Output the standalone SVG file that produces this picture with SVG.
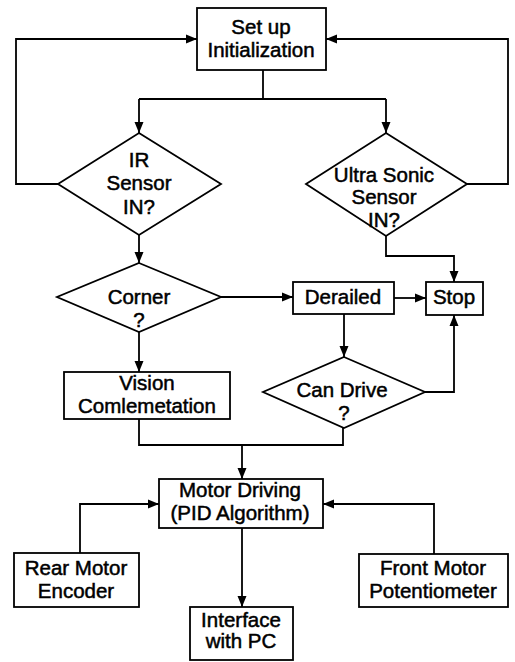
<svg xmlns="http://www.w3.org/2000/svg" width="515" height="662" viewBox="0 0 515 662">
<style>
.box{fill:#fff;stroke:#000;stroke-width:1.8}
.t{font-family:"Liberation Sans",Arial,sans-serif;font-size:20.5px;font-weight:normal;text-anchor:middle;fill:#000;stroke:#000;stroke-width:0.5}
.c{fill:none;stroke:#000;stroke-width:1.8}
.a{marker-end:url(#arr)}
</style>
<defs>
<marker id="arr" markerUnits="userSpaceOnUse" markerWidth="12" markerHeight="10" refX="11" refY="5" orient="auto">
<path d="M0,0.5 L11,5 L0,9.5 z" fill="#000"/>
</marker>
</defs>
<rect width="515" height="662" fill="#fff"/>
<g id="connectors">
<polyline class="c a" points="58,184 16,184 16,39 197,39"/>
<polyline class="c a" points="467,184 508,184 508,39 326,39"/>
<line class="c" x1="263" y1="70" x2="263" y2="99"/>
<line class="c" x1="139" y1="99" x2="386" y2="99"/>
<line class="c a" x1="139" y1="99" x2="139" y2="133"/>
<line class="c a" x1="386" y1="99" x2="386" y2="133"/>
<line class="c a" x1="139" y1="235" x2="139" y2="263"/>
<line class="c a" x1="221" y1="297" x2="293" y2="297"/>
<line class="c a" x1="394" y1="298" x2="426" y2="298"/>
<polyline class="c a" points="386,236 386,256 454,256 454,282"/>
<line class="c a" x1="344" y1="314" x2="344" y2="357"/>
<polyline class="c a" points="425,392 454,392 454,315"/>
<line class="c a" x1="139" y1="332" x2="139" y2="372"/>
<polyline class="c" points="139,419 139,445 343,445 343,428"/>
<line class="c a" x1="242" y1="445" x2="242" y2="479"/>
<polyline class="c a" points="80,553 80,504 159,504"/>
<polyline class="c a" points="434,554 434,504 323,504"/>
<line class="c a" x1="242" y1="528" x2="242" y2="607"/>
</g>
<g id="setup">
<rect class="box" x="197" y="8" width="129" height="62"/>
<text class="t" x="261" y="34">Set up</text>
<text class="t" x="261" y="57">Initialization</text>
</g>
<g id="ir">
<polygon class="box" points="139,133 221,184 139,235 58,184"/>
<text class="t" x="139" y="167">IR</text>
<text class="t" x="139" y="190">Sensor</text>
<text class="t" x="139" y="214">IN?</text>
</g>
<g id="ultra">
<polygon class="box" points="386,133 467,184 386,236 306,184"/>
<text class="t" x="384" y="182">Ultra Sonic</text>
<text class="t" x="384" y="204">Sensor</text>
<text class="t" x="384" y="227">IN?</text>
</g>
<g id="corner">
<polygon class="box" points="139,263 221,297 139,332 57,297"/>
<text class="t" x="139" y="304">Corner</text>
<text class="t" x="139" y="327">?</text>
</g>
<g id="derailed">
<rect class="box" x="293" y="282" width="101" height="32"/>
<text class="t" x="343" y="304">Derailed</text>
</g>
<g id="stop">
<rect class="box" x="426" y="282" width="57" height="33"/>
<text class="t" x="454" y="304">Stop</text>
</g>
<g id="vision">
<rect class="box" x="64" y="372" width="166" height="47"/>
<text class="t" x="147" y="390">Vision</text>
<text class="t" x="147" y="413">Comlemetation</text>
</g>
<g id="candrive">
<polygon class="box" points="344,357 425,392 344,428 263,392"/>
<text class="t" x="342" y="397">Can Drive</text>
<text class="t" x="344" y="420">?</text>
</g>
<g id="motor">
<rect class="box" x="159" y="479" width="164" height="49"/>
<text class="t" x="240" y="497">Motor Driving</text>
<text class="t" x="240" y="520">(PID Algorithm)</text>
</g>
<g id="rear">
<rect class="box" x="14" y="553" width="125" height="54"/>
<text class="t" x="76" y="575">Rear Motor</text>
<text class="t" x="76" y="598">Encoder</text>
</g>
<g id="front">
<rect class="box" x="359" y="554" width="149" height="53"/>
<text class="t" x="433" y="575">Front Motor</text>
<text class="t" x="433" y="598">Potentiometer</text>
</g>
<g id="interface">
<rect class="box" x="190" y="607" width="103" height="53"/>
<text class="t" x="241" y="627">Interface</text>
<text class="t" x="241" y="648">with PC</text>
</g>
</svg>
